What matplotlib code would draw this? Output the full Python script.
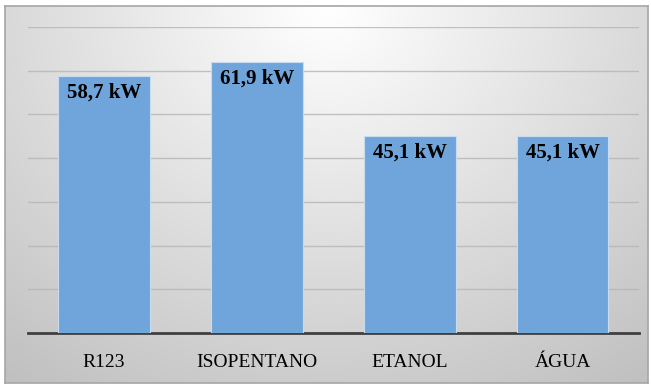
import numpy as np
import matplotlib.pyplot as plt

categorias = ["R123", "ISOPENTANO", "ETANOL", "ÁGUA"]
potencia = [58.7, 61.9, 45.1, 45.1]
rotulos = ["58,7 kW", "61,9 kW", "45,1 kW", "45,1 kW"]

fig = plt.figure(figsize=(6.51, 3.86), dpi=100)

# fundo com gradiente radial (claro no topo ao centro)
bg = fig.add_axes([5/651, 3/386, 643/651, 377/386], zorder=0)
yy, xx = np.mgrid[0:1:200j, 0:1:300j]
r = np.sqrt(((xx - 0.5) / 0.7) ** 2 + ((yy - 1.0) / 1.05) ** 2)
val = 1.0 - 0.21 * np.clip(r, 0, 1.2)
bg.imshow(val, cmap="gray", vmin=0, vmax=1, origin="lower",
          extent=[0, 1, 0, 1], aspect="auto", interpolation="bicubic")
bg.set_xticks([])
bg.set_yticks([])
for s in bg.spines.values():
    s.set_color("#a6a6a6")
    s.set_linewidth(1.2)

ax = fig.add_axes([27.5/651, 53/386, 611.5/651, 306/386], zorder=1)
ax.patch.set_alpha(0)
x = np.arange(len(categorias))
bars = ax.bar(x, potencia, width=0.6, color="#6fa5da", edgecolor="#c9dcef",
              linewidth=0.8, zorder=3)
for b, txt in zip(bars, rotulos):
    ax.text(b.get_x() + b.get_width()/2, b.get_height() - 1.5, txt,
            ha="center", va="top", fontsize=15, fontweight="bold",
            family="Liberation Serif", zorder=4)

ax.set_xlim(-0.5, len(categorias) - 0.5)
ax.set_ylim(0, 70)
ax.set_yticks(np.arange(10, 71, 10))
ax.yaxis.grid(True, color="#b5b5b5", linewidth=1.0, alpha=0.8, zorder=0)
ax.set_axisbelow(True)
ax.tick_params(axis="y", length=0, labelleft=False)
ax.tick_params(axis="x", length=0, pad=15)
ax.set_xticks(x)
ax.set_xticklabels(categorias, family="Liberation Serif", fontsize=14)
for s in ["top", "left", "right"]:
    ax.spines[s].set_visible(False)
ax.spines["bottom"].set_color("#404040")
ax.spines["bottom"].set_linewidth(2)

fig.savefig("out.png", dpi=100)
